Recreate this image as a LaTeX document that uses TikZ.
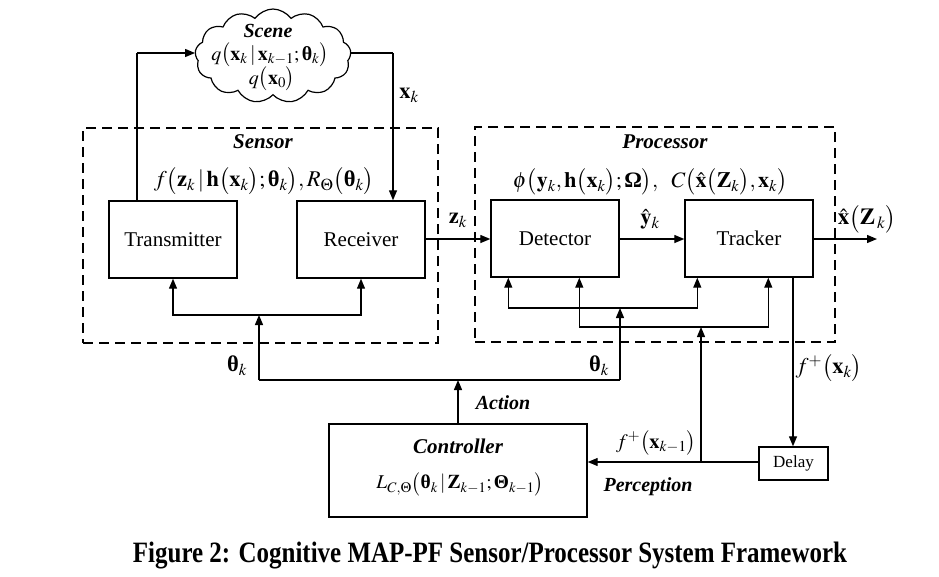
\documentclass[tikz,border=0pt]{standalone}
\usepackage{amsmath}
\usepackage{mathptmx}
\usepackage[no-math]{fontspec}
\setmainfont{Liberation Serif}
\usepackage{graphicx}
\usetikzlibrary{arrows.meta,shapes.symbols,calc}
\newcommand{\bth}{{\text{\normalfont\bfseries θ}}}
\newcommand{\bOm}{{\text{\normalfont\bfseries Ω}}}
\newcommand{\bThe}{{\text{\normalfont\bfseries Θ}}}
\newcommand{\lp}{\bigl(}
\newcommand{\rp}{\bigr)}
\tikzset{
  blk/.style={draw, line width=1.4pt, minimum width=128pt, minimum height=77pt, inner sep=0pt, font=\fontsize{21}{24}\selectfont},
  arr/.style={line width=1.3pt, -{Triangle[length=10pt,width=8pt]}},
  ln/.style={line width=1.3pt},
  grp/.style={draw, line width=2.2pt, dash pattern=on 10pt off 6pt, inner sep=0pt},
  ttl/.style={font=\fontsize{21}{24}\selectfont\bfseries\itshape, inner sep=0pt},
  lbl/.style={font=\fontsize{22.5}{24}\selectfont, inner sep=0pt},
  slbl/.style={font=\fontsize{20}{22}\selectfont, inner sep=0pt}
}
\begin{document}
\begin{tikzpicture}[x=1pt,y=-1pt]
\useasboundingbox (0,0) rectangle (939,576);
% groups
\node[grp, minimum width=355pt, minimum height=215pt] (sensor) at (260.5,235.5) {};
\node[grp, minimum width=360pt, minimum height=215pt] (proc) at (655,234.5) {};
% blocks
\node[blk] (trans) at (173,239.5) {Transmitter};
\node[blk] (recv) at (361,239.5) {Receiver};
\node[blk] (det) at (555,238.5) {Detector};
\node[blk] (trk) at (749,238.5) {Tracker};
\node[draw, line width=1.4pt, minimum width=69pt, minimum height=33pt, inner sep=0pt, font=\fontsize{17}{20}\selectfont] (delay) at (793.5,463.5) {Delay};
\node[draw, line width=1.4pt, minimum width=258pt, minimum height=93pt, inner sep=0pt] (ctrl) at (458,470.5) {};
% cloud
\node[cloud, draw, line width=1.2pt, cloud puffs=13, cloud puff arc=110, aspect=1.65, minimum width=156pt, minimum height=94pt, inner sep=0pt] (scene) at (273,56) {};
\node[ttl, font=\fontsize{20}{22}\selectfont\bfseries\itshape] (scenet) at (268,31) {Scene};
\node[slbl] (sceneq) at (270,55) {$q\lp\mathbf{x}_k \,|\, \mathbf{x}_{k-1};\bth_k\rp$};
\node[slbl] (sceneq0) at (272,79) {$q\lp\mathbf{x}_0\rp$};
% titles and formulas
\node[ttl] (sensort) at (263,142) {Sensor};
\node[lbl, font=\fontsize{22.5}{24}\selectfont] (sensorf) at (264,181) {$f\lp\mathbf{z}_k \,|\, \mathbf{h}\lp\mathbf{x}_k\rp;\bth_k\rp, R_{\Theta}\lp\bth_k\rp$};
\node[ttl] (proct) at (665,142) {Processor};
\node[lbl, font=\fontsize{22}{24}\selectfont] (procf) at (650,182) {$\phi\lp\mathbf{y}_k, \mathbf{h}\lp\mathbf{x}_k\rp;\bOm\rp,\ \ C\lp\hat{\mathbf{x}}\lp\mathbf{Z}_k\rp,\mathbf{x}_k\rp$};
\node[ttl] (ctrlt) at (458,446) {Controller};
\node[lbl, font=\fontsize{19.5}{22}\selectfont] (ctrlf) at (460,484) {$L_{C,\Theta}\lp\bth_k \,|\, \mathbf{Z}_{k-1};\bThe_{k-1}\rp$};
% coordinates
\coordinate (thL) at (259,380);
\coordinate (thR) at (620,380);
\coordinate (jS) at (259,315);
\coordinate (j1) at (620,308);
\coordinate (j2) at (701,327);
\coordinate (jP) at (701,462);
\coordinate (out) at (877,239);
\coordinate (tup) at (137,53);
\coordinate (rdn) at (393,53);
\coordinate (tdn) at (793,277);
% scene loop
\draw[ln] (trans.north -| tup) -- (tup);
\draw[arr] (tup) -- (tup -| scene.west);
\draw[ln] (scene.east |- rdn) -- (rdn);
\draw[arr] (rdn) -- (rdn |- recv.north);
% main chain
\draw[arr] (recv.east |- out) -- (det.west |- out);
\draw[arr] (det.east |- out) -- (trk.west |- out);
\draw[arr] (trk.east |- out) -- (out);
% sensor feed
\draw[arr] (thL) -- (jS);
\draw[arr] (jS) -| (trans.south);
\draw[arr] (jS) -| (recv.south);
% theta line and action
\draw[ln] (thL) -- (thR);
\draw[arr] (ctrl.north) -- (ctrl.north |- thL);
% processor feeds
\draw[arr] (thR) -- (j1);
\draw[arr] (j1) -| ($(det.south west)+(18,0)$);
\draw[arr] (j1) -| ($(trk.south west)+(13,0)$);
\draw[arr] (jP) -- (j2);
\draw[arr] (j2) -| ($(det.south west)+(89,0)$);
\draw[arr] (j2) -| ($(trk.south west)+(84,0)$);
% tracker to delay and back
\draw[arr] (tdn) -- (tdn |- delay.north);
\draw[arr] (delay.west |- jP) -- (jP -| ctrl.east);
% labels
\node[lbl] (lxk) at (409,95) {$\mathbf{x}_k$};
\node[lbl] (lzk) at (458,220) {$\mathbf{z}_k$};
\node[lbl] (lyk) at (650,219) {$\hat{\mathbf{y}}_k$};
\node[lbl, font=\fontsize{23}{24}\selectfont] (lout) at (867,219) {$\hat{\mathbf{x}}\lp\mathbf{Z}_{\,k}\rp$};
\node[lbl] (lth1) at (237,366) {$\bth_k$};
\node[lbl] (lth2) at (599,366) {$\bth_k$};
\node[lbl] (lfk) at (829,368) {$f^{+}\lp\mathbf{x}_k\rp$};
\node[lbl, font=\fontsize{20.5}{24}\selectfont] (lfk1) at (656,443) {$f^{+}\lp\mathbf{x}_{k-1}\rp$};
\node[ttl, font=\fontsize{20}{24}\selectfont\bfseries\itshape] (lact) at (503,403) {Action};
\node[ttl, font=\fontsize{20}{24}\selectfont\bfseries\itshape] (lper) at (648,487) {Perception};
% caption
\node[anchor=base, inner sep=0pt] (cap) at (490,562) {\resizebox{714pt}{20.5pt}{\bfseries Figure 2: Cognitive MAP-PF Sensor/Processor System Framework}};
\end{tikzpicture}
\end{document}
